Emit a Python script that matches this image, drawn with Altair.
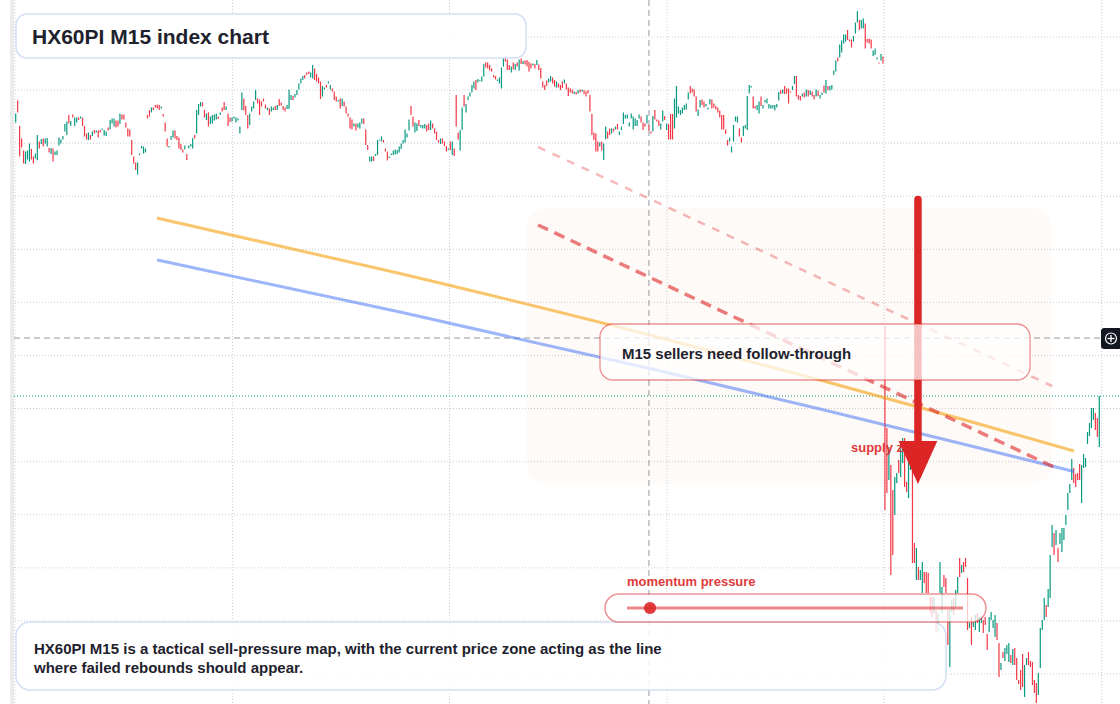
import altair as alt
import pandas as pd

# ---------------- data ----------------
opens = [
    1975.5, 1979.9, 1974.8, 1972.3, 1969.9, 1967.2, 1968.1, 1967.7, 1970.2, 1968.7,
    1968.3, 1968.0, 1971.7, 1971.2, 1972.3, 1971.3, 1970.7, 1970.4, 1969.2, 1970.3,
    1969.0, 1969.0, 1970.9, 1971.3, 1972.1, 1973.7, 1973.0, 1977.0, 1974.8, 1977.1,
    1974.8, 1975.5, 1976.5, 1976.3, 1976.5, 1974.8, 1973.3, 1972.0, 1973.0, 1972.8,
    1974.0, 1973.5, 1973.9, 1974.0, 1974.0, 1972.9, 1972.8, 1974.5, 1974.1, 1975.3,
    1974.7, 1975.9, 1975.9, 1975.2, 1977.1, 1977.1, 1975.5, 1974.3, 1974.1, 1972.0,
    1968.7, 1967.5, 1965.1, 1969.0, 1970.3, 1969.3, 1969.5, 1977.0, 1978.0, 1977.5,
    1978.5, 1979.0, 1979.1, 1979.0, 1978.3, 1977.2, 1975.5, 1972.3, 1970.5, 1972.0,
    1972.5, 1973.9, 1972.8, 1972.5, 1971.2, 1970.1, 1970.1, 1969.2, 1970.3, 1970.7,
    1970.3, 1973.0, 1973.3, 1977.0, 1978.7, 1979.5, 1978.0, 1976.0, 1977.5, 1975.2,
    1975.3, 1975.9, 1976.1, 1976.7, 1977.0, 1978.5, 1979.6, 1978.0, 1977.3, 1976.5,
    1975.7, 1976.3, 1975.5, 1975.9, 1973.3, 1978.0, 1980.3, 1978.8, 1977.0, 1975.0,
    1977.7, 1978.3, 1980.0, 1980.3, 1980.1, 1979.7, 1980.3, 1979.1, 1978.0, 1978.3,
    1977.7, 1978.0, 1978.8, 1978.0, 1980.2, 1979.5, 1978.8, 1978.5, 1978.2, 1978.2,
    1980.0, 1980.8, 1980.5, 1981.0, 1982.1, 1983.3, 1984.0, 1985.0, 1985.5, 1985.7,
    1984.5, 1984.3, 1986.3, 1985.2, 1984.5, 1983.7, 1980.7, 1982.1, 1983.0, 1983.3,
    1982.1, 1982.3, 1981.7, 1980.7, 1979.7, 1980.3, 1978.8, 1979.7, 1978.7, 1977.3,
    1976.5, 1976.1, 1974.7, 1975.3, 1974.5, 1974.3, 1975.3, 1976.3, 1974.1, 1971.0,
    1967.7, 1967.7, 1968.7, 1968.8, 1969.0, 1971.9, 1971.7, 1972.0, 1970.3, 1969.7,
    1968.4, 1969.0, 1969.0, 1969.1, 1969.2, 1969.5, 1970.2, 1971.3, 1971.5, 1972.5,
    1973.9, 1978.8, 1976.7, 1973.5, 1973.8, 1976.0, 1974.5, 1974.3, 1974.3, 1975.0,
    1975.3, 1974.0, 1975.3, 1974.3, 1973.7, 1972.0, 1971.2, 1972.3, 1971.7, 1970.8,
    1970.0, 1971.7, 1969.0, 1970.3, 1981.0, 1973.5, 1969.9, 1974.0, 1981.0, 1977.5,
    1980.0, 1980.7, 1981.5, 1982.3, 1984.0, 1983.5, 1983.8, 1983.7, 1984.7, 1987.5,
    1987.5, 1987.0, 1986.3, 1985.0, 1984.8, 1983.8, 1983.3, 1982.3, 1986.7, 1988.5,
    1988.1, 1987.0, 1985.5, 1987.5, 1986.0, 1987.5, 1985.9, 1988.3, 1987.2, 1987.9,
    1988.0, 1987.6, 1987.3, 1986.9, 1987.2, 1987.0, 1987.1, 1986.4, 1983.7, 1983.0,
    1983.9, 1983.5, 1983.7, 1984.5, 1984.0, 1982.5, 1983.3, 1983.0, 1983.7, 1983.3,
    1983.3, 1982.5, 1982.3, 1982.1, 1981.2, 1981.6, 1981.3, 1982.1, 1981.7, 1982.0,
    1981.7, 1982.0, 1981.0, 1977.2, 1973.5, 1973.3, 1971.7, 1970.7, 1971.7, 1968.0,
    1972.1, 1973.7,
    1974.3, 1973.3, 1974.3, 1974.1, 1975.2, 1973.0, 1974.0, 1975.2, 1976.3, 1976.3,
    1974.7, 1976.3, 1974.1, 1974.8, 1974.8, 1976.3, 1976.7, 1975.5, 1975.3, 1975.3,
    1975.0, 1973.7, 1973.7, 1978.0, 1976.1, 1975.9, 1974.1, 1975.7, 1976.8, 1974.0,
    1975.2, 1977.2, 1977.2, 1974.3, 1976.5, 1977.3, 1977.0, 1977.3, 1978.0, 1978.1,
    1980.1, 1982.8, 1982.3, 1982.1, 1980.7, 1976.8, 1978.5, 1980.1, 1979.7, 1978.7,
    1978.1, 1979.1, 1980.1, 1979.3, 1978.8, 1978.5, 1977.9, 1977.0, 1977.0, 1974.1,
    1972.0, 1971.7, 1969.5, 1971.7, 1975.7, 1975.5, 1974.3, 1972.5, 1972.8, 1974.3,
    1974.0, 1981.3, 1982.5, 1980.7, 1978.8, 1978.0, 1977.3, 1980.7, 1978.3, 1979.5,
    1979.3, 1978.3, 1978.3, 1978.3, 1977.9, 1978.5, 1979.9, 1982.0, 1981.3, 1982.8,
    1982.3, 1982.3, 1981.7, 1982.0, 1983.2, 1984.8, 1981.0, 1980.8, 1980.7, 1981.5,
    1980.7, 1982.0, 1981.0, 1981.7, 1981.0, 1980.7, 1981.9, 1980.3, 1981.0, 1982.9,
    1981.3, 1982.8, 1981.9, 1982.1, 1985.0, 1985.7, 1988.5, 1988.5, 1989.5, 1991.3,
    1991.7, 1994.0, 1992.1, 1992.1, 1991.7, 1993.3, 1995.5, 1996.0, 1994.3, 1994.3,
    1995.3, 1992.2, 1992.3, 1992.1, 1988.8, 1989.0, 1988.1, 1987.5, 1987.9, 1988.7,
    1934.8, 1914.4, 1904.0, 1907.0, 1902.0, 1897.0, 1903.4, 1908.0, 1904.6, 1907.4,
    1912.4, 1903.6, 1900.4, 1906.0, 1908.6, 1891.4, 1884.0, 1886.6, 1884.0, 1881.4,
    1885.6, 1885.6, 1885.4, 1880.6, 1880.6, 1877.4, 1878.0, 1873.4, 1881.4, 1877.4,
    1885.0, 1884.4, 1878.0, 1866.6, 1877.6, 1880.4, 1878.6, 1881.4, 1888.4, 1885.4,
    1887.6, 1888.4, 1884.4, 1874.4, 1876.6, 1874.6, 1874.0, 1877.4, 1873.6, 1875.4,
    1876.0, 1876.6, 1873.2, 1873.6, 1876.0, 1874.4, 1872.6, 1875.4, 1871.4, 1866.0,
    1869.6, 1867.8, 1869.2, 1867.6, 1869.0, 1867.0, 1870.4, 1868.4, 1864.0, 1866.0,
    1869.2, 1860.6, 1867.0, 1869.6, 1867.8, 1867.6, 1864.0, 1863.4, 1861.0, 1866.4,
    1874.0, 1876.0, 1879.0, 1878.6, 1880.4, 1890.6, 1893.4, 1891.0, 1890.4, 1891.2,
    1889.6, 1892.0, 1895.0, 1898.0, 1901.4, 1904.0, 1906.4, 1905.2, 1905.4, 1907.2,
    1899.4, 1906.4, 1906.6, 1911.2, 1912.8, 1914.4, 1916.0, 1917.4, 1916.4, 1910.6,
]
closes = [
    1977.3, 1977.5, 1968.7, 1970.5, 1967.3, 1969.7, 1969.9, 1971.3, 1968.1, 1967.3,
    1969.3, 1973.0, 1970.3, 1972.2, 1970.7, 1972.3, 1972.4, 1969.5, 1970.4, 1967.7,
    1969.7, 1969.9, 1972.5, 1972.1, 1972.8, 1975.2, 1975.7, 1975.3, 1975.8, 1976.5,
    1976.5, 1976.5, 1976.0, 1976.7, 1974.8, 1972.7, 1972.1, 1973.5, 1972.1, 1973.7,
    1973.3, 1973.9, 1972.5, 1973.5, 1974.3, 1974.0, 1973.7, 1973.9, 1976.0, 1976.3,
    1976.3, 1974.5, 1974.7, 1977.3, 1976.1, 1976.1, 1974.5, 1972.7, 1972.7, 1969.0,
    1967.3, 1966.0, 1967.5, 1969.3, 1970.8, 1970.7, 1970.3, 1976.3, 1976.7, 1978.5,
    1978.0, 1978.5, 1978.3, 1978.0, 1978.7, 1976.7, 1973.7, 1970.7, 1970.8, 1972.8,
    1973.9, 1972.3, 1972.0, 1970.3, 1970.0, 1969.5, 1970.9, 1968.0, 1970.9, 1971.2,
    1972.4, 1972.3, 1978.0, 1979.2, 1979.6, 1978.7, 1976.5, 1977.3, 1974.7, 1976.7,
    1977.0, 1977.1, 1977.3, 1976.2, 1977.5, 1977.7, 1978.0, 1978.7, 1974.8, 1975.6,
    1976.5, 1976.7, 1976.5, 1976.3, 1974.7, 1981.5, 1977.9, 1977.0, 1974.3, 1977.3,
    1978.7, 1979.7, 1982.0, 1979.3, 1977.0, 1978.7, 1979.7, 1978.3, 1978.5, 1977.0,
    1978.7, 1978.5, 1978.0, 1979.0, 1978.8, 1978.9, 1978.0, 1977.7, 1979.0, 1982.1,
    1981.0, 1980.0, 1981.2, 1982.0, 1983.3, 1984.3, 1984.8, 1984.3, 1985.0, 1985.2,
    1985.5, 1987.0, 1984.0, 1983.7, 1983.3, 1980.2, 1982.8, 1982.5, 1982.5, 1983.7,
    1983.0, 1981.7, 1980.0, 1979.7, 1980.0, 1978.3, 1980.3, 1978.7, 1977.3, 1976.7,
    1974.3, 1974.1, 1975.3, 1973.9, 1975.3, 1975.5, 1976.3, 1975.2, 1971.0, 1970.0,
    1968.7, 1968.7, 1967.8, 1969.2, 1972.0, 1972.1, 1972.7, 1971.5, 1969.7, 1967.9,
    1968.7, 1969.3, 1969.9, 1970.1, 1970.0, 1970.7, 1971.3, 1972.0, 1974.1, 1973.3,
    1976.1, 1977.0, 1974.7, 1975.5, 1975.3, 1974.8, 1975.0, 1975.0, 1975.2, 1973.7,
    1974.0, 1975.9, 1974.3, 1973.3, 1972.0, 1971.5, 1972.3, 1971.3, 1970.8, 1969.7,
    1970.3, 1970.0, 1971.7, 1968.8, 1974.7, 1972.1, 1974.0, 1978.5, 1978.7, 1979.2,
    1980.7, 1981.5, 1983.0, 1983.7, 1982.0, 1984.2, 1984.0, 1984.7, 1987.2, 1986.5,
    1986.3, 1985.9, 1985.7, 1984.5, 1984.1, 1984.1, 1984.5, 1986.5, 1988.5, 1987.7,
    1986.0, 1986.0, 1986.7, 1986.1, 1987.2, 1986.7, 1988.1, 1987.2, 1987.8, 1987.1,
    1986.7, 1985.7, 1986.3, 1987.3, 1986.3, 1988.0, 1986.0, 1984.3, 1982.5, 1982.0,
    1982.8, 1984.3, 1984.8, 1983.3, 1982.7, 1983.7, 1982.5, 1982.0, 1982.4, 1984.1,
    1982.1, 1980.8, 1981.5, 1981.3, 1981.7, 1981.1, 1982.0, 1981.5, 1982.1, 1981.2,
    1980.7, 1981.3, 1977.7, 1973.0, 1972.0, 1969.7, 1969.7, 1971.5, 1969.9, 1971.3,
    1974.7, 1972.3,
    1973.0, 1974.3, 1973.7, 1974.7, 1974.1, 1973.7, 1974.7, 1977.5, 1977.0, 1977.1,
    1975.5, 1977.3, 1976.7, 1976.3, 1976.0, 1977.1, 1975.5, 1974.0, 1974.7, 1977.0,
    1973.9, 1973.3, 1976.8, 1976.1, 1975.7, 1974.8, 1975.3, 1977.9, 1976.0, 1975.3,
    1972.1, 1972.1, 1972.1, 1980.3, 1982.8, 1978.7, 1978.0, 1978.5, 1979.0, 1979.3,
    1981.5, 1981.3, 1981.5, 1980.7, 1977.7, 1978.1, 1980.0, 1979.0, 1978.5, 1979.2,
    1978.5, 1980.2, 1978.3, 1978.5, 1978.1, 1977.5, 1976.5, 1974.1, 1974.1, 1973.2,
    1970.9, 1972.5, 1970.7, 1975.0, 1976.7, 1976.7, 1972.7, 1971.5, 1974.8, 1975.0,
    1980.8, 1983.0, 1982.8, 1978.3, 1978.3, 1979.0, 1979.7, 1978.8, 1979.0, 1980.0,
    1980.3, 1979.2, 1979.0, 1979.0, 1979.0, 1979.2, 1981.6, 1981.2, 1982.1, 1981.2,
    1981.3, 1979.3, 1981.5, 1982.8, 1984.8, 1980.7, 1980.1, 1979.9, 1981.3, 1980.5,
    1982.1, 1980.7, 1981.9, 1980.7, 1980.1, 1982.1, 1980.8, 1981.0, 1981.5, 1981.5,
    1984.0, 1982.0, 1982.8, 1983.0, 1985.9, 1987.9, 1987.7, 1991.1, 1991.9, 1993.1,
    1993.1, 1992.0, 1991.7, 1990.5, 1992.8, 1995.5, 1997.8, 1994.0, 1996.0, 1996.3,
    1990.3, 1991.5, 1991.3, 1990.3, 1989.9, 1990.3, 1988.5, 1987.3, 1989.2, 1987.3,
    1898.0, 1901.4, 1910.6, 1885.0, 1889.0, 1904.6, 1905.4, 1905.4, 1911.6, 1912.4,
    1902.6, 1901.6, 1910.6, 1910.6, 1887.4, 1887.4, 1890.4, 1884.0, 1886.0, 1887.6,
    1883.4, 1881.4, 1881.4, 1877.4, 1876.6, 1880.6, 1873.6, 1877.4, 1887.6, 1882.6,
    1882.6, 1881.4, 1871.0, 1878.0, 1880.0, 1877.0, 1882.0, 1884.6, 1884.6, 1887.0,
    1885.6, 1886.6, 1874.0, 1875.4, 1871.0, 1875.6, 1877.0, 1875.4, 1876.6, 1876.6,
    1873.4, 1875.0, 1870.0, 1876.6, 1877.6, 1876.0, 1877.0, 1872.0, 1864.6, 1867.4,
    1868.4, 1870.4, 1871.0, 1871.4, 1867.4, 1870.2, 1867.0, 1864.0, 1863.2, 1862.0,
    1862.6, 1867.0, 1868.4, 1867.0, 1866.6, 1863.0, 1861.4, 1859.4, 1865.4, 1874.4,
    1876.0, 1880.4, 1876.6, 1882.2, 1889.0, 1895.0, 1889.0, 1894.0, 1887.6, 1893.4,
    1894.4, 1894.4, 1897.0, 1901.4, 1903.2, 1908.2, 1903.4, 1902.6, 1904.0, 1904.0,
    1907.0, 1909.2, 1908.4, 1913.6, 1915.4, 1918.4, 1918.4, 1914.0, 1912.6, 1920.8,
]

# grid levels (price) and grid times (bar index)
price_grid = [1992.6, 1981.98, 1971.37, 1960.75, 1950.14, 1939.52, 1928.9,
              1918.29, 1907.67, 1897.06, 1886.44, 1875.82, 1865.21]
time_grid = [-0.4, 110.2, 220.6, 331.2, 441.6, 552.2]

# crosshair
cross_t = [322.0]
cross_p = [1932.4]

# overlay lines (bar index, price)
curve_t = [71.9, 195.4, 322.5, 409.0, 482.7, 538.1]
orange_p = [1956.4, 1945.3, 1933.0, 1924.0, 1916.0, 1909.8]
blue_p = [1948.0, 1937.6, 1926.3, 1918.2, 1911.1, 1905.7]
red_t = [265.6, 529.0]
red_p = [1955.0, 1906.4]
faint_t = [265.6, 527.0]
faint_p = [1970.6, 1922.8]
arrow_t = [458.8]
arrow_top = [1960.1]
arrow_base = [1911.8]
arrow_head = [1907.5]

# ---------------- build ----------------
n = len(opens)
df = pd.DataFrame({"t": list(range(n)), "open": opens, "close": closes})
df["dir"] = ["up" if c >= o else "down" for o, c in zip(opens, closes)]

X = alt.Scale(domain=[-7.98, 561.53], nice=False, zero=False)
Y = alt.Scale(domain=[1859.2, 2000.0], nice=False, zero=False)
FONT = "Liberation Sans"
RED = "#dc2626"
DARK = "#1e222d"
one = pd.DataFrame({"a": [0]})


def xq(f):
    return alt.X(f, type="quantitative", scale=X, axis=None)


def yq(f):
    return alt.Y(f, type="quantitative", scale=Y, axis=None)


def box(x1, x2, y1, y2, **kw):
    return alt.Chart(one).mark_rect(**kw).encode(
        x=alt.value(x1), x2=alt.value(x2), y=alt.value(y1), y2=alt.value(y2))


def label(txt, x, y, **kw):
    return alt.Chart(one).mark_text(text=txt, font=FONT, fontWeight="bold", align="left", **kw).encode(
        x=alt.value(x), y=alt.value(y))


grid_v = alt.Chart(pd.DataFrame({"t": time_grid})).mark_rule(
    color="#c9cdd3", strokeDash=[1, 2], strokeWidth=1).encode(
    x=xq("t"), y=alt.value(0), y2=alt.value(704))
grid_h = alt.Chart(pd.DataFrame({"p": price_grid})).mark_rule(
    color="#c9cdd3", strokeDash=[1, 2], strokeWidth=1).encode(
    y=yq("p"), x=alt.value(15), x2=alt.value(1120))
band = box(10, 14, 0, 704, color="#ebebeb")
zone = box(527, 1052, 208, 484, cornerRadius=20, color="#f4a261", opacity=0.05)

last_line = alt.Chart(pd.DataFrame({"p": [closes[-1]]})).mark_rule(
    color="#089981", strokeDash=[1, 2], strokeWidth=1).encode(
    y=yq("p"), x=alt.value(14), x2=alt.value(1120))
cross_h = alt.Chart(pd.DataFrame({"p": cross_p})).mark_rule(
    color="#9598a1", strokeDash=[6, 4], strokeWidth=1).encode(
    y=yq("p"), x=alt.value(14), x2=alt.value(1101))
cross_v = alt.Chart(pd.DataFrame({"t": cross_t})).mark_rule(
    color="#9598a1", strokeDash=[6, 4], strokeWidth=1).encode(
    x=xq("t"), y=alt.value(0), y2=alt.value(704))

candles = alt.Chart(df).mark_rule(strokeWidth=1.2).encode(
    x=xq("t"), y=yq("open"), y2="close:Q",
    color=alt.Color("dir:N", scale=alt.Scale(domain=["up", "down"], range=["#089981", "#f23645"]),
                    legend=None))

orange = alt.Chart(pd.DataFrame({"t": curve_t, "p": orange_p})).mark_line(
    color="#f59e0b", opacity=0.6, strokeWidth=3, interpolate="monotone").encode(x=xq("t"), y=yq("p"))
blue = alt.Chart(pd.DataFrame({"t": curve_t, "p": blue_p})).mark_line(
    color="#3b6cf6", opacity=0.5, strokeWidth=3, interpolate="monotone").encode(x=xq("t"), y=yq("p"))
faint = alt.Chart(pd.DataFrame({"t": faint_t, "p": faint_p})).mark_line(
    color=RED, opacity=0.32, strokeWidth=2.5, strokeDash=[8, 8]).encode(x=xq("t"), y=yq("p"))
red = alt.Chart(pd.DataFrame({"t": red_t, "p": red_p})).mark_line(
    color=RED, opacity=0.6, strokeWidth=3.5, strokeDash=[11, 7]).encode(x=xq("t"), y=yq("p"))

supply = label("supply zone", 851, 448, fontSize=13, color=RED, opacity=0.9, baseline="middle")

shaft = alt.Chart(pd.DataFrame({"t": arrow_t, "a": arrow_top, "b": arrow_base})).mark_rule(
    color=RED, strokeWidth=7.5, strokeCap="round").encode(x=xq("t"), y=yq("a"), y2="b:Q")
head = alt.Chart(pd.DataFrame({"t": arrow_t, "p": arrow_head})).mark_point(
    shape="M-0.9,-1L0.9,-1L0,1Z", size=1849, filled=True, color=RED, opacity=1, strokeWidth=0).encode(
    x=xq("t"), y=yq("p"))

callout = box(600, 1030, 324, 380, cornerRadius=13, fill="white", fillOpacity=0.72,
              stroke=RED, strokeOpacity=0.5, strokeWidth=1.3)
callout_txt = label("M15 sellers need follow-through", 622, 353.5, fontSize=15, color=DARK, baseline="middle")

mom_lbl = label("momentum pressure", 627, 582, fontSize=13, color=RED, opacity=0.9, baseline="middle")
pill = box(605, 986, 594, 622, cornerRadius=14, fill="white", fillOpacity=0.75,
           stroke=RED, strokeOpacity=0.5, strokeWidth=1.5)
pill_line = alt.Chart(one).mark_rule(color=RED, opacity=0.55, strokeWidth=3).encode(
    x=alt.value(627), x2=alt.value(963), y=alt.value(608))
pill_dot = alt.Chart(one).mark_point(shape="circle", filled=True, size=150, color=RED, opacity=0.9).encode(
    x=alt.value(650), y=alt.value(608))

title_box = box(16, 526, 14, 58, cornerRadius=11, fill="white", fillOpacity=0.92,
                stroke="#d3dff6", strokeWidth=1.5)
title_txt = label("HX60PI M15 index chart", 32, 43.5, fontSize=21, color=DARK, baseline="alphabetic")

note_box = box(16, 946, 622, 690, cornerRadius=14, fill="white", fillOpacity=0.85,
               stroke="#d3dff6", strokeWidth=1.5)
note1 = label("HX60PI M15 is a tactical sell-pressure map, with the current price zone acting as the line",
              34, 653.5, fontSize=15, color=DARK, baseline="alphabetic")
note2 = label("where failed rebounds should appear.", 34, 673, fontSize=15, color=DARK, baseline="alphabetic")

badge = box(1101, 1122, 328, 349, cornerRadius=3, color="#131722")
badge_c = alt.Chart(one).mark_point(shape="circle", filled=False, size=120, color="white",
                                    strokeWidth=1.2, opacity=1).encode(x=alt.value(1111), y=alt.value(338.5))
badge_h = alt.Chart(one).mark_rule(color="white", strokeWidth=1.3).encode(
    x=alt.value(1107.5), x2=alt.value(1114.5), y=alt.value(338.5))
badge_v = alt.Chart(one).mark_rule(color="white", strokeWidth=1.3).encode(
    x=alt.value(1111), y=alt.value(335), y2=alt.value(342))

chart = alt.layer(
    grid_v, grid_h, band, zone, last_line, cross_v, cross_h, candles,
    orange, blue, faint, red, supply, shaft, head,
    callout, callout_txt, note_box, note1, note2, mom_lbl, pill, pill_line, pill_dot,
    title_box, title_txt, badge, badge_c, badge_h, badge_v,
).properties(
    width=1120, height=704, padding=0,
    autosize=alt.AutoSizeParams(type="none"), background="white",
).configure_view(stroke=None)

chart.save("out.html", embed_options={"renderer": "svg", "actions": False})
